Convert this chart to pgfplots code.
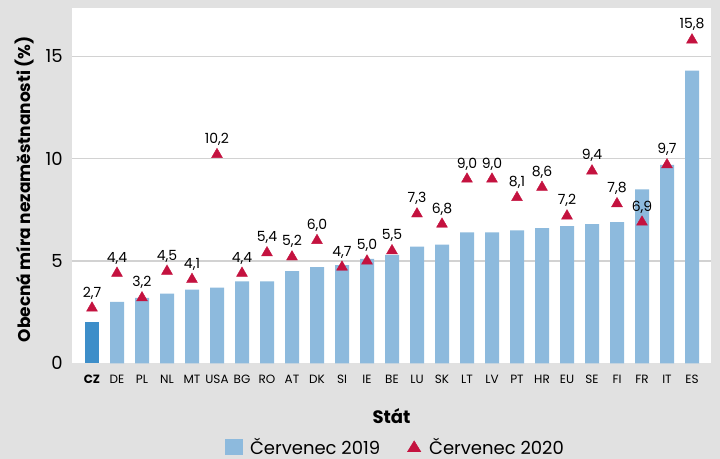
\documentclass[border=0pt]{standalone}
\usepackage{pgfplots}
\pgfplotsset{compat=1.18}
\usepackage{pgfplotstable}
\usepackage{fontspec}
\setmainfont{Poppins}
\definecolor{bgc}{HTML}{E1E1E1}
\definecolor{barc}{HTML}{8DBADD}
\definecolor{czc}{HTML}{3D8EC9}
\definecolor{redc}{HTML}{C4123F}
\definecolor{gridc}{HTML}{D2D2D2}
\pgfkeys{/pgf/number format/.cd, use comma, assume math mode=true}

\pgfplotstableread{
x y
0 2.0
}\czbar
\pgfplotstableread{
x y
1 3.0
2 3.2
3 3.4
4 3.6
5 3.7
6 4.0
7 4.0
8 4.5
9 4.7
10 4.8
11 5.1
12 5.3
13 5.7
14 5.8
15 6.4
16 6.4
17 6.5
18 6.6
19 6.7
20 6.8
21 6.9
22 8.5
23 9.7
24 14.3
}\bars
\pgfplotstableread{
x y
0 2.7
1 4.4
2 3.2
3 4.5
4 4.1
5 10.2
6 4.4
7 5.4
8 5.2
9 6.0
10 4.7
11 5.0
12 5.5
13 7.3
14 6.8
15 9.0
16 9.0
17 8.1
18 8.6
19 7.2
20 9.4
21 7.8
22 6.9
23 9.7
24 15.8
}\marks

\begin{document}
\begin{tikzpicture}
\fill[bgc] (0,0) rectangle (720bp,459bp);
\useasboundingbox (0,0) rectangle (720bp,459bp);
\begin{axis}[
  at={(72bp,95.7bp)}, anchor=south west,
  scale only axis, width=639bp, height=355.3bp,
  xmin=-0.8, xmax=24.76, ymin=0, ymax=17.36,
  axis background/.style={fill=white},
  axis line style={draw=none},
  major tick length=0pt,
  xtick={0,...,24},
  xticklabels={\textbf{CZ},DE,PL,NL,MT,USA,BG,RO,AT,DK,SI,IE,BE,LU,SK,LT,LV,PT,HR,EU,SE,FI,FR,IT,ES},
  xticklabel style={font=\fontsize{12bp}{14bp}\selectfont, anchor=base, inner sep=0pt, yshift=-20bp},
  ytick={5,10,15},
  extra y ticks={0},
  extra y tick style={grid=none},
  ymajorgrids,
  grid style={gridc, line width=1.4bp},
  yticklabel style={font=\fontsize{18bp}{20bp}\selectfont, anchor=east, inner sep=0pt, xshift=-9bp},
  xlabel={\textbf{Stát}},
  xlabel style={font=\fontsize{18bp}{20bp}\selectfont, at={(axis description cs:0.5,-0.148)}, anchor=center},
  ylabel={\textbf{Obecná míra nezaměstnanosti (\%)}},
  ylabel style={font=\fontsize{17bp}{20bp}\selectfont, at={(axis description cs:-0.074,0.49)}, anchor=center},
  legend style={at={(axis description cs:0.5047,-0.235)}, anchor=center, draw=none, fill=none,
    font=\fontsize{18bp}{20bp}\selectfont, legend columns=2,
    nodes={inner sep=0pt},
    /tikz/every odd column/.append style={column sep=8bp},
    /tikz/every even column/.append style={column sep=27bp}},
  legend cell align=left,
]
\addplot[ybar, bar width=0.56, fill=czc, draw=none, forget plot] table[x=x,y=y] {\czbar};
\addplot[ybar, bar width=0.56, fill=barc, draw=none, forget plot] table[x=x,y=y] {\bars};
\addplot[only marks, mark=triangle*, mark size=6.3bp, color=redc, forget plot,
  point meta=explicit,
  nodes near coords={\pgfmathprintnumber[fixed,fixed zerofill,precision=1]{\pgfplotspointmeta}},
  nodes near coords style={font=\fontsize{14bp}{16bp}\selectfont, text=black, anchor=base, inner sep=0pt, yshift=11bp}]
  table[x=x,y=y,meta=y] {\marks};
\addlegendimage{legend image code/.code={\fill[barc] (0bp,-7.5bp) rectangle (16.5bp,8bp);}}
\addlegendentry{Červenec 2019}
\addlegendimage{legend image code/.code={\fill[redc] (0bp,-5bp) -- (13.5bp,-5bp) -- (6.75bp,6bp) -- cycle;}}
\addlegendentry{Červenec 2020}
\end{axis}
\end{tikzpicture}
\end{document}
